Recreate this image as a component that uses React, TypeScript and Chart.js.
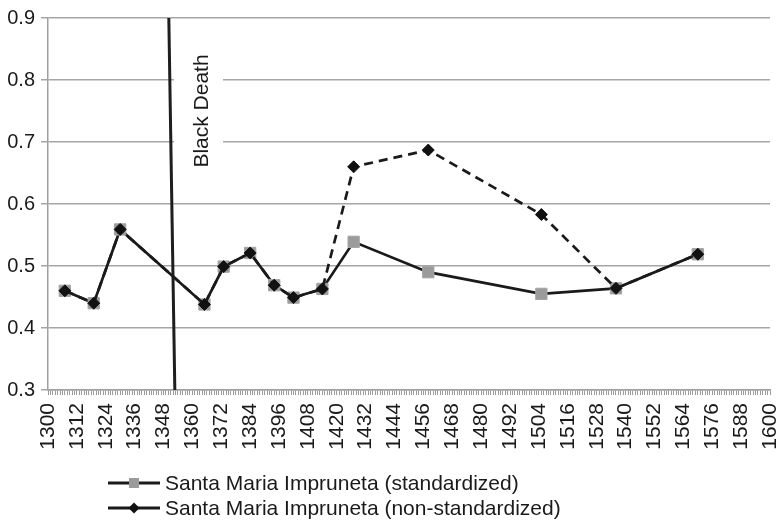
import { useEffect, useRef } from 'react';
import { Chart, registerables } from 'chart.js';

Chart.register(...registerables);

const FONT = '"Liberation Sans", Arial, Helvetica, sans-serif';

const YEARS = [1307, 1319, 1330, 1365, 1373, 1384, 1394, 1402, 1414, 1427, 1458, 1505, 1536, 1570];
const STANDARDIZED = [0.460, 0.440, 0.559, 0.438, 0.499, 0.521, 0.469, 0.449, 0.463, 0.539, 0.490, 0.455, 0.464, 0.519];
const NON_STANDARDIZED = [0.460, 0.440, 0.559, 0.438, 0.499, 0.521, 0.469, 0.449, 0.463, 0.660, 0.687, 0.583, 0.464, 0.519];

const SERIES_LABELS = ['Santa Maria Impruneta (standardized)', 'Santa Maria Impruneta (non-standardized)'];

const X_TICK_LABELS = [1300, 1312, 1324, 1336, 1348, 1360, 1372, 1384, 1396, 1408, 1420, 1432, 1444, 1456, 1468, 1480, 1492, 1504, 1516, 1528, 1540, 1552, 1564, 1576, 1588, 1600];
const Y_TICKS = [0.3, 0.4, 0.5, 0.6, 0.7, 0.8, 0.9];

const BLACK_DEATH_X = [1350.2, 1352.7];
const BLACK_DEATH_Y = [0.9, 0.3];
const ANNOTATION_TEXT = 'Black Death';

export default function App() {
  const ref = useRef<HTMLCanvasElement | null>(null);

  useEffect(() => {
    if (!ref.current) return;

    const legendPlugin = {
      id: 'customLegend',
      afterDraw(chart: any) {
        const ctx = chart.ctx;
        ctx.save();
        const rows = [
          { y: 483, marker: 'square', ds: chart.data.datasets[0] },
          { y: 508, marker: 'diamond', ds: chart.data.datasets[1] },
        ];
        rows.forEach((r) => {
          ctx.strokeStyle = '#1a1a1a';
          ctx.lineWidth = 3;
          ctx.setLineDash([]);
          ctx.beginPath();
          ctx.moveTo(108, r.y);
          ctx.lineTo(160, r.y);
          ctx.stroke();
          if (r.marker === 'square') {
            ctx.fillStyle = '#9b9b9b';
            ctx.fillRect(129, r.y - 5, 10, 10);
          } else {
            ctx.fillStyle = '#111';
            ctx.beginPath();
            ctx.moveTo(134, r.y - 5.5);
            ctx.lineTo(139.5, r.y);
            ctx.lineTo(134, r.y + 5.5);
            ctx.lineTo(128.5, r.y);
            ctx.closePath();
            ctx.fill();
          }
          ctx.fillStyle = '#1a1a1a';
          ctx.font = `21px ${FONT}`;
          ctx.textBaseline = 'middle';
          ctx.textAlign = 'left';
          ctx.fillText(r.ds.label, 165, r.y + 1);
        });
        ctx.restore();
      },
    };

    const annotationPlugin = {
      id: 'blackDeathLabel',
      afterDatasetsDraw(chart: any) {
        const ctx = chart.ctx;
        ctx.save();
        ctx.fillStyle = '#ffffff';
        ctx.fillRect(174, 46, 49, 130);
        ctx.translate(202, 111);
        ctx.rotate(-Math.PI / 2);
        ctx.fillStyle = '#1a1a1a';
        ctx.font = `21px ${FONT}`;
        ctx.textAlign = 'center';
        ctx.textBaseline = 'middle';
        ctx.fillText(ANNOTATION_TEXT, 0, 0);
        ctx.restore();
      },
    };

    const chart = new Chart(ref.current, {
      type: 'line',
      data: {
        datasets: [
          {
            label: SERIES_LABELS[0],
            data: YEARS.map((x, i) => ({ x, y: STANDARDIZED[i] })),
            borderColor: '#1a1a1a',
            borderWidth: 2.7,
            pointStyle: 'rect',
            pointRadius: 8,
            pointBackgroundColor: '#9b9b9b',
            pointBorderColor: '#a5a5a5',
            pointBorderWidth: 1,
            tension: 0,
            order: 1,
          },
          {
            label: SERIES_LABELS[1],
            data: YEARS.map((x, i) => ({ x, y: NON_STANDARDIZED[i] })),
            borderColor: '#1a1a1a',
            borderWidth: 2.7,
            borderDash: [9, 6],
            pointStyle: 'rectRot',
            pointRadius: 6,
            pointBackgroundColor: '#111',
            pointBorderColor: '#111',
            pointBorderWidth: 1,
            tension: 0,
            order: 0,
          },
          {
            label: ANNOTATION_TEXT,
            data: BLACK_DEATH_X.map((x, i) => ({ x, y: BLACK_DEATH_Y[i] })),
            borderColor: '#1e1e1e',
            borderWidth: 3,
            pointRadius: 0,
            tension: 0,
            order: 2,
          },
        ],
      },
      options: {
        responsive: false,
        animation: false,
        events: [],
        layout: { padding: { top: 16, right: 7.5, bottom: 72, left: 0 } },
        plugins: {
          legend: { display: false },
          tooltip: { enabled: false },
        },
        scales: {
          x: {
            type: 'linear',
            min: 1300,
            max: 1600,
            afterBuildTicks: (s: any) => {
              const t: any[] = [];
              for (let v = 1300; v <= 1600; v++) t.push({ value: v });
              s.ticks = t;
            },
            afterFit: (s: any) => {
              s.paddingLeft = 0;
              s.paddingRight = 0;
              s.height = 62;
            },
            ticks: {
              autoSkip: false,
              minRotation: 90,
              maxRotation: 90,
              padding: 8,
              color: '#1a1a1a',
              font: { size: 21, family: FONT },
              callback: (v: any) => (X_TICK_LABELS.includes(Number(v)) ? String(v) : ''),
            },
            grid: { drawOnChartArea: false, drawTicks: true, tickLength: 5, color: '#9a9a9a', lineWidth: 1 },
            border: { display: true, color: '#a0a0a0', width: 1.5 },
          },
          y: {
            min: 0.3,
            max: 0.9,
            afterBuildTicks: (s: any) => {
              s.ticks = Y_TICKS.map((v) => ({ value: v }));
            },
            afterFit: (s: any) => {
              s.width = 48;
            },
            ticks: {
              padding: 6,
              color: '#1a1a1a',
              font: { size: 20, family: FONT },
              callback: (v: any) => Number(v).toFixed(1),
            },
            grid: { color: '#a6a6a6', lineWidth: 1.5, tickLength: 7 },
            border: { display: true, color: '#a0a0a0', width: 1.5 },
          },
        },
      },
      plugins: [annotationPlugin, legendPlugin],
    } as any);

    return () => chart.destroy();
  }, []);

  return (
    <div style={{ position: 'absolute', left: 0, top: 0, width: 779, height: 524, overflow: 'hidden', background: '#fff' }}>
      <canvas ref={ref} width={779} height={524} style={{ display: 'block' }} />
    </div>
  );
}
